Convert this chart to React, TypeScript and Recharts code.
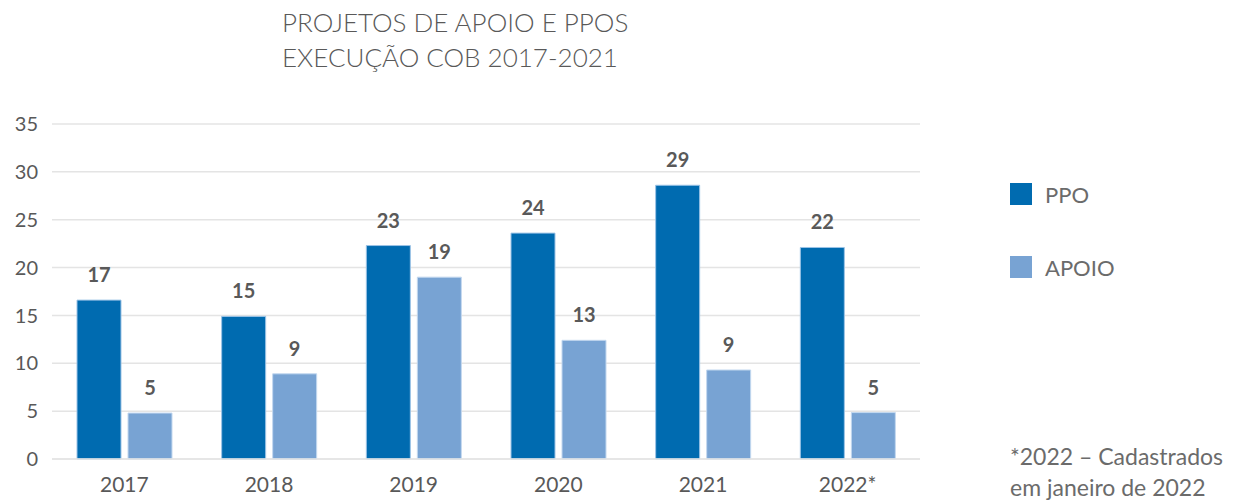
import { BarChart, Bar, XAxis, YAxis, CartesianGrid, LabelList } from 'recharts';

const categories = ['2017', '2018', '2019', '2020', '2021', '2022*'];
const ppoValues = [16.6, 14.9, 22.3, 23.6, 28.6, 22.1];
const ppoLabels = [17, 15, 23, 24, 29, 22];
const apoioValues = [4.8, 8.9, 19.0, 12.4, 9.3, 4.85];
const apoioLabels = [5, 9, 19, 13, 9, 5];
const yTicks = [0, 5, 10, 15, 20, 25, 30, 35];

const PPO_COLOR = '#006BB0';
const APOIO_COLOR = '#78A3D3';
const TEXT = '#595959';
const FONT = 'Lato, "Open Sans", sans-serif';

const data = categories.map((year, i) => ({
    year,
    ppo: ppoValues[i],
    ppoLabel: ppoLabels[i],
    apoio: apoioValues[i],
    apoioLabel: apoioLabels[i],
}));

const legendItems = [
    { name: 'PPO', color: PPO_COLOR },
    { name: 'APOIO', color: APOIO_COLOR },
];

const App = () => {
    return (
        <div style={{ position: 'absolute', left: 0, top: 0, width: 1234, height: 500, background: '#fff', fontFamily: FONT }}>
            <div style={{ position: 'absolute', left: 282, top: 5, fontSize: 26, lineHeight: '35px', color: TEXT, fontWeight: 300 }}>
                PROJETOS DE APOIO E PPOS
                <br />
                EXECUÇÃO COB 2017-2021
            </div>

            <BarChart
                width={1234}
                height={500}
                data={data}
                margin={{ top: 124, right: 314, bottom: 0, left: 0 }}
                barCategoryGap={25}
                barGap={7}
            >
                <CartesianGrid vertical={false} stroke="#e4e4e4" strokeWidth={1.5} />
                <XAxis
                    dataKey="year"
                    height={41}
                    axisLine={{ stroke: '#e4e4e4', strokeWidth: 1.5 }}
                    tickLine={false}
                    tickMargin={12}
                    tick={{ fontSize: 21, fill: TEXT, fontFamily: FONT }}
                />
                <YAxis
                    width={52}
                    domain={[0, 35]}
                    ticks={yTicks}
                    axisLine={false}
                    tickLine={false}
                    tickMargin={8}
                    tick={{ fontSize: 20, fill: TEXT, fontFamily: FONT }}
                />
                <Bar dataKey="ppo" name="PPO" fill={PPO_COLOR} stroke="#9cc3e6" strokeWidth={1} isAnimationActive={false}>
                    <LabelList dataKey="ppoLabel" position="top" offset={18} style={{ fontSize: 20, fontWeight: 700, fill: TEXT, fontFamily: FONT }} />
                </Bar>
                <Bar dataKey="apoio" name="APOIO" fill={APOIO_COLOR} stroke="#c3d8ef" strokeWidth={1} isAnimationActive={false}>
                    <LabelList dataKey="apoioLabel" position="top" offset={18} style={{ fontSize: 20, fontWeight: 700, fill: TEXT, fontFamily: FONT }} />
                </Bar>
            </BarChart>

            <div style={{ position: 'absolute', left: 1010, top: 183 }}>
                {legendItems.map((item) => (
                    <div key={item.name} style={{ display: 'flex', alignItems: 'center', height: 22, marginBottom: 51 }}>
                        <span style={{ width: 22, height: 22, background: item.color, display: 'inline-block' }} />
                        <span style={{ marginLeft: 13, fontSize: 22, color: '#6b6b6b' }}>{item.name}</span>
                    </div>
                ))}
            </div>

            <div style={{ position: 'absolute', left: 1010, top: 441, fontSize: 23, lineHeight: '31px', color: '#6b6b6b' }}>
                *2022 – Cadastrados
                <br />
                em janeiro de 2022
            </div>
        </div>
    );
};

export default App;
